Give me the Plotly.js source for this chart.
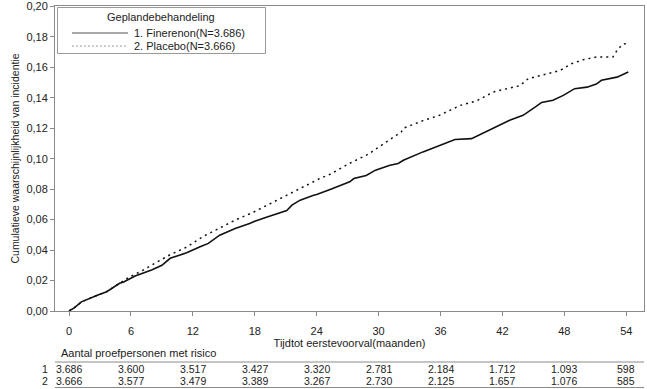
<!DOCTYPE html>
<html>
<head>
<meta charset="utf-8">
<script src="https://cdn.plot.ly/plotly-3.0.1.min.js"></script>
<style>html,body{margin:0;padding:0;background:#fff}#chart{width:647px;height:389px}</style>
</head>
<body>
<div id="chart"></div>
<script>
// Data
var fineMonths = [0,0.5,1.2,2.0,2.8,3.65,4.9,5.3,6.4,8.0,9.0,9.8,11.4,12.7,13.5,14.6,16.1,17.5,18.0,19.2,20.1,21.1,21.6,22.4,23.7,24.0,25.3,27.2,27.6,28.8,29.7,31.1,31.9,32.4,34.3,35.9,37.4,39.0,40.1,41.1,42.7,44.0,45.2,45.8,46.9,47.9,49.0,50.2,51.1,51.6,53.1,53.6,54.2];
var fineValues = [0,0.002,0.006,0.008,0.0105,0.0127,0.0182,0.019,0.023,0.027,0.030,0.0346,0.0382,0.0422,0.0444,0.0498,0.0542,0.0575,0.059,0.0618,0.064,0.066,0.0695,0.0728,0.076,0.0765,0.0798,0.0848,0.087,0.089,0.0925,0.0957,0.0969,0.099,0.1045,0.1089,0.1126,0.1132,0.1165,0.120,0.1252,0.1285,0.134,0.137,0.1384,0.1416,0.146,0.147,0.149,0.1515,0.1536,0.155,0.157];
var placMonths = [0,0.5,1.2,2.0,2.8,3.65,4.9,5.9,6.9,8.2,9.8,11.4,13.0,14.6,16.2,17.9,19.5,21.1,22.7,24.3,25.3,27.2,29.0,30.8,32.2,32.4,34.3,35.9,37.9,39.5,41.1,43.05,43.7,44.5,46.6,47.6,48.7,49.8,51.1,52.7,53.1,53.6,54.2];
var placValues = [0,0.002,0.006,0.008,0.0105,0.0127,0.0182,0.0225,0.0258,0.031,0.037,0.042,0.049,0.0545,0.060,0.065,0.0706,0.076,0.0815,0.087,0.0898,0.097,0.103,0.111,0.1176,0.120,0.125,0.1285,0.135,0.138,0.1438,0.147,0.148,0.1526,0.156,0.158,0.1624,0.165,0.1668,0.1668,0.171,0.175,0.176];
var seriesNames = ["1. Finerenon(N=3.686)", "2. Placebo(N=3.666)"];
var legendTitle = "Geplandebehandeling";
var tickMonths = [0,6,12,18,24,30,36,42,48,54];
var yTicks = [0,0.02,0.04,0.06,0.08,0.10,0.12,0.14,0.16,0.18,0.20];
var riskFine = ["3.686","3.600","3.517","3.427","3.320","2.781","2.184","1.712","1.093","598"];
var riskPlac = ["3.666","3.577","3.479","3.389","3.267","2.730","2.125","1.657","1.076","585"];
var riskRowLabels = ["1","2"];
var riskTitle = "Aantal proefpersonen met risico";

var FONT = "Liberation Sans, Arial, sans-serif";
var TXT = "#222";
var AX = "#8a8a8a";
var lineStyles = [
  {color: "#111", width: 1.6},
  {color: "#111", width: 1.5, dash: "2px,4px"}
];
var legendLineStyles = [
  {color: "#555", width: 1},
  {color: "#999", width: 1, dash: "2px,2px"}
];

var traces = [
  {x: fineMonths, y: fineValues, name: seriesNames[0], type: "scatter", mode: "lines", line: lineStyles[0]},
  {x: placMonths, y: placValues, name: seriesNames[1], type: "scatter", mode: "lines", line: lineStyles[1]}
];

// pixel -> paper helpers (plot area: x 55..644, y 6..311)
function px(p) { return (p - 55) / 589; }
function py(p) { return (311 - p) / 305; }

var annotations = [
  {xref: "paper", yref: "paper", x: px(59), y: py(353), xanchor: "left", yanchor: "middle",
   text: riskTitle, showarrow: false, font: {family: FONT, size: 11, color: TXT}},
  {xref: "paper", yref: "paper", x: px(161), y: py(16.5), xanchor: "center", yanchor: "middle",
   text: legendTitle, showarrow: false, font: {family: FONT, size: 11, color: TXT}}
];
var shapes = [
  {type: "line", xref: "paper", yref: "paper", x0: 0, x1: 1, y0: py(362), y1: py(362), line: {color: AX, width: 1}},
  {type: "line", xref: "paper", yref: "paper", x0: 0, x1: 1, y0: py(387.5), y1: py(387.5), line: {color: AX, width: 1}},
  {type: "rect", xref: "paper", yref: "paper", x0: px(57.5), x1: px(265.5), y0: py(53.5), y1: py(7.5),
   line: {color: "#999", width: 1}, fillcolor: "#fff", layer: "below"}
];
seriesNames.forEach(function (nm, i) {
  var yy = i === 0 ? 33 : 46;
  shapes.push({type: "line", xref: "paper", yref: "paper", x0: px(72), x1: px(128), y0: py(yy), y1: py(yy),
    line: legendLineStyles[i]});
  annotations.push({xref: "paper", yref: "paper", x: px(132), y: py(yy), xanchor: "left", yanchor: "middle",
    text: nm, showarrow: false, font: {family: FONT, size: 11, color: TXT}});
});

var rows = [riskFine, riskPlac];
rows.forEach(function (row, r) {
  var yy = r === 0 ? py(369) : py(381);
  annotations.push({xref: "paper", yref: "paper", x: px(50), y: yy, xanchor: "right", yanchor: "middle",
    text: riskRowLabels[r], showarrow: false, font: {family: FONT, size: 10.5, color: TXT}});
  row.forEach(function (v, i) {
    annotations.push({xref: "x", yref: "paper", x: tickMonths[i], y: yy, xanchor: "center", yanchor: "middle",
      text: v, showarrow: false, font: {family: FONT, size: 10.5, color: TXT}});
  });
});

var layout = {
  width: 647, height: 389,
  margin: {l: 55, r: 3, t: 6, b: 78},
  paper_bgcolor: "#fff", plot_bgcolor: "#fff",
  separators: ",.",
  font: {family: FONT, size: 11, color: TXT},
  showlegend: false,
  xaxis: {
    range: [-1.36, 55.72], tickmode: "array", tickvals: tickMonths,
    ticks: "outside", ticklen: 4, tickcolor: AX, showline: true, linecolor: AX, mirror: true,
    showgrid: false, zeroline: false, ticklabelstandoff: 6,
    tickfont: {family: FONT, size: 11, color: TXT},
    title: {text: "Tijdtot eerstevoorval(maanden)", standoff: 3, font: {family: FONT, size: 11, color: TXT}}
  },
  yaxis: {
    range: [0, 0.2003], tickmode: "array", tickvals: yTicks,
    tickformat: ".2f", ticks: "outside", ticklen: 4, tickcolor: AX, showline: true, linecolor: AX, mirror: true,
    showgrid: false, zeroline: false,
    tickfont: {family: FONT, size: 11, color: TXT},
    title: {text: "Cumulatieve waarschijnlijkheid van incidentie", standoff: 4, font: {family: FONT, size: 10.5, color: TXT}}
  },
  annotations: annotations,
  shapes: shapes
};

Plotly.newPlot("chart", traces, layout, {displayModeBar: false, staticPlot: true});
</script>
</body>
</html>
